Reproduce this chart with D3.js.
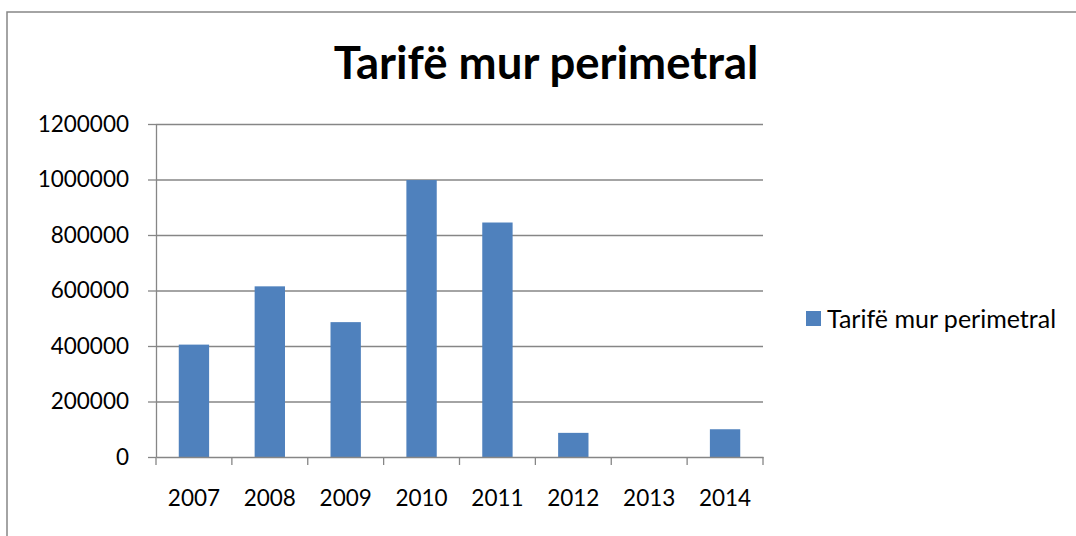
<!DOCTYPE html>
<html>
<head>
<meta charset="utf-8">
<script src="https://cdn.jsdelivr.net/npm/d3@7"></script>
<style>
  body { margin: 0; background: #fff; }
  svg { display: block; font-family: Lato, 'Open Sans', sans-serif; }
  .axis { font-family: Lato, 'Open Sans', sans-serif; }
  .axis .domain { stroke: #868686; stroke-width: 1.3; }
  .axis line { stroke: #868686; stroke-width: 1.3; }
  .axis text { fill: #000; font-size: 22.5px; }
  .grid line { stroke: #868686; stroke-width: 1.3; }
  .grid .domain { display: none; }
</style>
</head>
<body>
<div id="chart"></div>
<script>
// chart values
const title = 'Tarifë mur perimetral'
const seriesName = 'Tarifë mur perimetral'
const years = ['2007', '2008', '2009', '2010', '2011', '2012', '2013', '2014']
const values = [405000, 615000, 486000, 998000, 845000, 87000, 0, 100000]
const yTicks = [0, 200000, 400000, 600000, 800000, 1000000, 1200000]

const W = 1076
const H = 536
const margin = { top: 124, right: 313, bottom: 79, left: 156 }
const width = W - margin.left - margin.right
const height = H - margin.top - margin.bottom

const svg = d3.select('#chart').append('svg')
  .attr('width', W)
  .attr('height', H)

// outer chart frame (only top and left edges are in view)
svg.append('rect')
  .attr('x', 7)
  .attr('y', 12)
  .attr('width', W + 20)
  .attr('height', H + 20)
  .attr('fill', 'none')
  .attr('stroke', '#868686')
  .attr('stroke-width', 1.5)

const g = svg.append('g')
  .attr('transform', 'translate(' + margin.left + ',' + margin.top + ')')

// category scale for bars and for the labels / tick marks
const xScale = d3.scaleBand()
  .domain(years)
  .range([0, width])
  .paddingInner(0.6)
  .paddingOuter(0.3)

const xCat = d3.scaleBand()
  .domain(years)
  .range([0, width])

const yScale = d3.scaleLinear()
  .domain([0, d3.max(yTicks)])
  .range([height, 0])

// gridlines
g.append('g')
  .attr('class', 'grid')
  .call(d3.axisLeft(yScale).tickValues(yTicks.slice(1)).tickSize(-width).tickFormat(''))

// bars
g.selectAll('.bar')
  .data(years)
  .enter().append('rect')
  .attr('class', 'bar')
  .attr('x', d => xScale(d))
  .attr('y', (d, i) => yScale(values[i]))
  .attr('width', xScale.bandwidth())
  .attr('height', (d, i) => height - yScale(values[i]))
  .attr('fill', '#4F81BD')

// y axis
g.append('g')
  .attr('class', 'axis y')
  .call(d3.axisLeft(yScale).tickValues(yTicks).tickSize(8).tickSizeOuter(0).tickPadding(19).tickFormat(d3.format('d')))

// x axis: labels at category centres, tick marks between categories
const xAxis = g.append('g')
  .attr('class', 'axis x')
  .attr('transform', 'translate(0,' + height + ')')
  .call(d3.axisBottom(xCat).tickSize(0).tickPadding(33))

xAxis.selectAll('.tick-mark')
  .data(d3.range(years.length + 1))
  .enter().append('line')
  .attr('class', 'tick-mark')
  .attr('x1', i => i * xCat.step())
  .attr('x2', i => i * xCat.step())
  .attr('y1', 0)
  .attr('y2', 8)

// title
svg.append('text')
  .attr('x', 546)
  .attr('y', 79)
  .attr('text-anchor', 'middle')
  .attr('font-weight', 'bold')
  .attr('font-size', 45.5)
  .text(title)

// legend
const legend = svg.append('g')
  .attr('transform', 'translate(806,311)')

legend.append('rect')
  .attr('width', 15)
  .attr('height', 15)
  .attr('fill', '#4F81BD')

legend.append('text')
  .attr('x', 21)
  .attr('y', 8)
  .attr('dy', '0.35em')
  .attr('font-size', 25)
  .text(seriesName)
</script>
</body>
</html>
